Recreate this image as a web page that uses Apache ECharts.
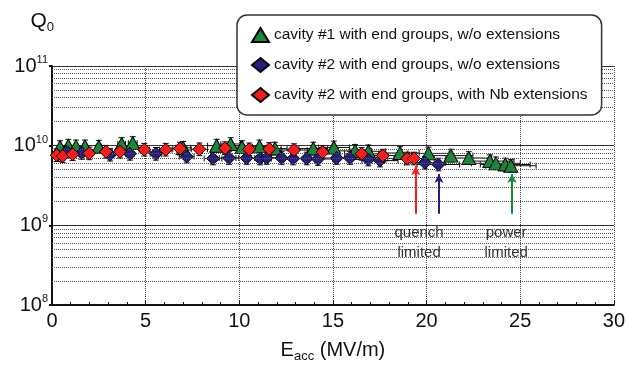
<!DOCTYPE html>
<html>
<head>
<meta charset="utf-8">
<script src="https://cdn.jsdelivr.net/npm/echarts@6/dist/echarts.min.js"></script>
<style>
  html, body { margin: 0; padding: 0; background: #fff; }
  #chart { width: 628px; height: 368px; }
</style>
</head>
<body>
<div id="chart"></div>
<script>
// values: E_acc in MV/m, Q0
const cav1E = [0.43, 0.87, 1.28, 1.76, 2.5, 3.72, 4.31, 7.0, 8.79, 9.54, 10.15, 11.08, 11.9, 13.95, 15.05, 16.18, 16.89, 18.58, 20.1, 21.3, 22.25, 23.38, 23.7, 24.2, 24.5];
const cav1Q = [9.6e9, 1.0e10, 9.8e9, 9.8e9, 9.7e9, 1.05e10, 1.08e10, 9.4e9, 1.0e10, 1.05e10, 9.6e9, 9.8e9, 9.2e9, 9.2e9, 9.5e9, 8.6e9, 8.5e9, 8.1e9, 8.0e9, 7.5e9, 7.0e9, 6.4e9, 6.0e9, 5.8e9, 5.6e9];

const cav2E = [0.3, 0.78, 1.59, 3.1, 4.16, 5.55, 7.19, 8.6, 9.45, 10.39, 11.1, 11.46, 12.26, 12.88, 13.6, 14.2, 15.2, 15.91, 16.89, 17.51, 19.91, 20.63];
const cav2Q = [7.6e9, 8.4e9, 8.1e9, 7.7e9, 7.9e9, 7.9e9, 7.3e9, 6.9e9, 7.0e9, 7.0e9, 6.9e9, 7.0e9, 7.0e9, 6.9e9, 6.9e9, 6.8e9, 7.0e9, 7.0e9, 6.7e9, 6.5e9, 6.1e9, 5.8e9];

const cav2NbE = [0.25, 0.57, 1.1, 1.99, 2.88, 3.63, 4.93, 6.07, 6.83, 7.87, 9.24, 10.53, 11.6, 12.92, 14.45, 16.53, 17.66, 18.97, 19.33];
const cav2NbQ = [7.6e9, 7.4e9, 7.8e9, 8.0e9, 8.4e9, 8.4e9, 8.9e9, 8.9e9, 9.2e9, 9.0e9, 9.3e9, 9.0e9, 9.1e9, 8.8e9, 8.3e9, 7.9e9, 7.5e9, 6.9e9, 6.9e9];

// error bars (relative)
const qErr = 0.2;
const eErr = 0.055;

// arrows: quench (red, navy) and power limit (green)
const arrowE = [19.42, 20.66, 24.56];
const arrowFromQ = [1.4e9, 1.4e9, 1.4e9];
const arrowToQ = [5.5e9, 4.4e9, 4.4e9];
const arrowColors = ['#ff1a1a', '#221e82', '#178a35'];

const noteE = [19.6, 24.25];
const noteQ = [6.0e8, 6.0e8];
const noteText = ['quench\nlimited', 'power\nlimited'];

// minor log gridlines
const decades = [1e8, 1e9, 1e10];
const minorSteps = [2, 3, 4, 5, 6, 7, 8, 9];

const FONT = '"Liberation Sans", Arial, sans-serif';

const chart = echarts.init(document.getElementById('chart'));

function pairs(xs, ys) {
  return xs.map((x, i) => [x, ys[i]]);
}

const minorLines = [];
decades.forEach((d) => minorSteps.forEach((m) => minorLines.push({ yAxis: d * m })));

function errorBars(xs, ys) {
  return {
    type: 'custom',
    silent: true,
    z: 1,
    data: pairs(xs, ys),
    renderItem: function (params, api) {
      const x = api.value(0);
      const q = api.value(1);
      const c = api.coord([x, q]);
      const top = api.coord([x, q * (1 + qErr)]);
      const bot = api.coord([x, q / (1 + qErr)]);
      const lft = api.coord([x * (1 - eErr), q]);
      const rgt = api.coord([x * (1 + eErr), q]);
      const st = { stroke: '#111', lineWidth: 1 };
      const cap = 3;
      return {
        type: 'group',
        children: [
          { type: 'line', shape: { x1: c[0], y1: top[1], x2: c[0], y2: bot[1] }, style: st },
          { type: 'line', shape: { x1: c[0] - cap, y1: top[1], x2: c[0] + cap, y2: top[1] }, style: st },
          { type: 'line', shape: { x1: c[0] - cap, y1: bot[1], x2: c[0] + cap, y2: bot[1] }, style: st },
          { type: 'line', shape: { x1: lft[0], y1: c[1], x2: rgt[0], y2: c[1] }, style: st },
          { type: 'line', shape: { x1: lft[0], y1: c[1] - cap, x2: lft[0], y2: c[1] + cap }, style: st },
          { type: 'line', shape: { x1: rgt[0], y1: c[1] - cap, x2: rgt[0], y2: c[1] + cap }, style: st }
        ]
      };
    }
  };
}

const option = {
  animation: false,
  textStyle: { fontFamily: FONT },
  grid: { left: 52, right: 14, top: 66, bottom: 63 },
  legend: {
    left: 237,
    top: 15,
    orient: 'vertical',
    data: [
      'cavity #1 with end groups, w/o extensions',
      'cavity #2 with end groups, w/o extensions',
      'cavity #2 with end groups, with Nb extensions'
    ],
    backgroundColor: '#fff',
    borderColor: '#333',
    borderWidth: 1.5,
    borderRadius: 10,
    padding: [12, 14, 12, 14],
    itemGap: 14,
    itemWidth: 17,
    itemHeight: 14,
    textStyle: { fontFamily: FONT, fontSize: 15.5, color: '#111' },
    z: 10
  },
  xAxis: {
    type: 'value',
    min: 0,
    max: 30,
    interval: 5,
    name: '{b|E}{s|acc}{b| (MV/m)}',
    nameLocation: 'middle',
    nameGap: 33,
    nameTextStyle: {
      rich: {
        b: { fontFamily: FONT, fontSize: 20, color: '#111' },
        s: { fontFamily: FONT, fontSize: 13, color: '#111', padding: [12, 0, 0, 0] }
      }
    },
    axisLine: { lineStyle: { color: '#111', width: 2 } },
    axisTick: { inside: true, length: 4, lineStyle: { color: '#111' } },
    minorTick: { show: true, splitNumber: 5, length: 3, lineStyle: { color: '#111' } },
    axisLabel: { fontSize: 20, color: '#111', margin: 6 },
    splitLine: { show: true, lineStyle: { color: '#444', type: 'dotted', width: 1 } }
  },
  yAxis: {
    type: 'log',
    logBase: 10,
    min: 1e8,
    max: 1e11,
    name: '{b|Q}{s|0}',
    nameLocation: 'end',
    nameGap: 32,
    nameTextStyle: {
      align: 'right',
      padding: [0, -2, 0, 0],
      rich: {
        b: { fontFamily: FONT, fontSize: 21, color: '#111' },
        s: { fontFamily: FONT, fontSize: 13, color: '#111', padding: [12, 0, 0, 0] }
      }
    },
    axisLine: { show: true, lineStyle: { color: '#111', width: 2 } },
    axisTick: { show: true, length: 3, lineStyle: { color: '#111', width: 2 } },
    axisLabel: {
      margin: 4,
      formatter: function (v) {
        return '{b|10}{s|' + Math.round(Math.log10(v)) + '}';
      },
      rich: {
        b: { fontFamily: FONT, fontSize: 20, color: '#111' },
        s: { fontFamily: FONT, fontSize: 11, color: '#111', padding: [0, 0, 12, 0] }
      }
    },
    splitLine: { show: true, lineStyle: { color: '#333', width: 1 } }
  },
  series: [
    {
      name: 'minor',
      type: 'scatter',
      data: [],
      silent: true,
      z: 0,
      markLine: {
        silent: true,
        symbol: ['none', 'none'],
        label: { show: false },
        lineStyle: { color: '#555', type: 'dotted', width: 1 },
        data: minorLines
      }
    },
    errorBars(cav1E, cav1Q),
    errorBars(cav2E, cav2Q),
    errorBars(cav2NbE, cav2NbQ),
    {
      name: 'cavity #1 with end groups, w/o extensions',
      type: 'scatter',
      symbol: 'triangle',
      symbolSize: [14, 13],
      itemStyle: { color: '#178a35', borderColor: '#000', borderWidth: 1, opacity: 1 },
      data: pairs(cav1E, cav1Q),
      z: 3
    },
    {
      name: 'cavity #2 with end groups, w/o extensions',
      type: 'scatter',
      symbol: 'diamond',
      symbolSize: 13,
      itemStyle: { color: '#221e82', borderColor: '#000', borderWidth: 1, opacity: 1 },
      data: pairs(cav2E, cav2Q),
      z: 4
    },
    {
      name: 'cavity #2 with end groups, with Nb extensions',
      type: 'scatter',
      symbol: 'diamond',
      symbolSize: 13,
      itemStyle: { color: '#ff1a1a', borderColor: '#000', borderWidth: 1, opacity: 1 },
      data: pairs(cav2NbE, cav2NbQ),
      z: 5
    },
    {
      name: 'notes',
      type: 'scatter',
      data: [],
      silent: true,
      z: 6,
      markLine: {
        silent: true,
        symbol: ['none', 'arrow'],
        symbolSize: [7, 9],
        label: { show: false },
        data: arrowE.map((e, i) => [
          { coord: [e, arrowFromQ[i]], lineStyle: { color: arrowColors[i], width: 2, type: 'solid' } },
          { coord: [e, arrowToQ[i]] }
        ])
      },
      markPoint: {
        silent: true,
        symbol: 'circle',
        symbolSize: 0,
        label: {
          show: true,
          position: 'inside',
          fontFamily: FONT,
          fontSize: 15,
          lineHeight: 20,
          color: '#333',
          formatter: (p) => p.name
        },
        data: noteE.map((e, i) => ({ name: noteText[i], coord: [e, noteQ[i]] }))
      }
    }
  ]
};

chart.setOption(option);
</script>
</body>
</html>
